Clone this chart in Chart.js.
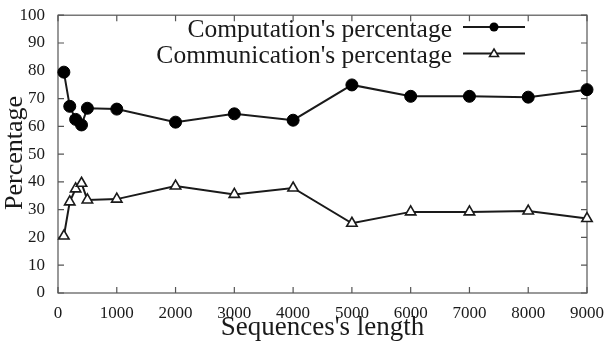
<!DOCTYPE html>
<html><head><meta charset="utf-8">
<script src="https://cdn.jsdelivr.net/npm/chart.js@4/dist/chart.umd.min.js"></script>
<style>html,body{margin:0;padding:0;background:#fff}#c{display:block}</style>
</head><body>
<canvas id="c" width="606" height="348"></canvas>
<script>
const lengths = [100, 200, 300, 400, 500, 1000, 2000, 3000, 4000, 5000, 6000, 7000, 8000, 9000];
const computation = [79.5, 67.2, 62.5, 60.5, 66.5, 66.2, 61.5, 64.5, 62.2, 74.9, 70.8, 70.8, 70.5, 73.2];
const communication = [20.5, 32.8, 37.5, 39.5, 33.5, 33.8, 38.5, 35.5, 37.8, 25.1, 29.2, 29.2, 29.5, 26.8];
const xTicks = [0, 1000, 2000, 3000, 4000, 5000, 6000, 7000, 8000, 9000];
const yTicks = [0, 10, 20, 30, 40, 50, 60, 70, 80, 90, 100];
const seriesNames = ["Computation's percentage", "Communication's percentage"];
const xTitle = "Sequences's length";
const yTitle = "Percentage";

const SERIF = "'Liberation Serif', 'DejaVu Serif', serif";
const INK = '#1a1a1a';

const framePlugin = {
  id: 'frame',
  beforeDatasetsDraw(chart) {
    const {ctx, chartArea: a, scales: {x, y}} = chart;
    ctx.save();
    ctx.strokeStyle = '#555';
    ctx.lineWidth = 1.2;
    ctx.strokeRect(a.left, a.top, a.right - a.left, a.bottom - a.top);
    const tl = 6;
    ctx.beginPath();
    xTicks.forEach(v => {
      const px = x.getPixelForValue(v);
      ctx.moveTo(px, a.bottom); ctx.lineTo(px, a.bottom - tl);
      ctx.moveTo(px, a.top); ctx.lineTo(px, a.top + tl);
    });
    yTicks.forEach(v => {
      const py = y.getPixelForValue(v);
      ctx.moveTo(a.left, py); ctx.lineTo(a.left + tl, py);
      ctx.moveTo(a.right, py); ctx.lineTo(a.right - tl, py);
    });
    ctx.stroke();
    ctx.restore();
  },
  afterDraw(chart) {
    const {ctx, chartArea: a} = chart;
    ctx.save();
    ctx.fillStyle = INK;
    // axis titles
    ctx.font = "27px " + SERIF;
    ctx.textAlign = 'center';
    ctx.textBaseline = 'middle';
    ctx.fillText(xTitle, (a.left + a.right) / 2, 328);
    ctx.save();
    ctx.translate(15, 153);
    ctx.rotate(-Math.PI / 2);
    ctx.font = "26px " + SERIF;
    ctx.fillText(yTitle, 0, 0);
    ctx.restore();
    // legend
    ctx.font = "25.5px " + SERIF;
    ctx.textAlign = 'right';
    const rows = [27, 53.5];
    seriesNames.forEach((name, i) => {
      const yy = rows[i];
      ctx.fillStyle = INK;
      ctx.fillText(name, 452, yy + 3);
      ctx.strokeStyle = INK;
      ctx.lineWidth = 2;
      ctx.beginPath(); ctx.moveTo(463, yy); ctx.lineTo(525, yy); ctx.stroke();
      if (i === 0) {
        ctx.beginPath(); ctx.arc(494, yy, 4.5, 0, Math.PI * 2); ctx.fillStyle = '#000'; ctx.fill();
      } else {
        ctx.beginPath();
        ctx.moveTo(494, yy - 4.5); ctx.lineTo(498.5, yy + 3); ctx.lineTo(489.5, yy + 3); ctx.closePath();
        ctx.fillStyle = '#fff'; ctx.fill(); ctx.lineWidth = 1.5; ctx.stroke();
      }
    });
    ctx.restore();
  }
};

new Chart(document.getElementById('c'), {
  type: 'line',
  data: {
    datasets: [
      {
        label: seriesNames[0],
        data: lengths.map((v, i) => ({x: v, y: computation[i]})),
        borderColor: INK, borderWidth: 2, tension: 0,
        pointStyle: 'circle', pointRadius: 6, pointBackgroundColor: '#000', pointBorderColor: '#000', pointBorderWidth: 1,
        clip: false
      },
      {
        label: seriesNames[1],
        data: lengths.map((v, i) => ({x: v, y: communication[i]})),
        borderColor: INK, borderWidth: 2, tension: 0,
        pointStyle: 'triangle', pointRadius: 6, pointBackgroundColor: '#fff', pointBorderColor: INK, pointBorderWidth: 1.6,
        clip: false
      }
    ]
  },
  options: {
    responsive: false,
    animation: false,
    events: [],
    layout: {padding: {top: 9, right: 19, left: 0, bottom: 0}},
    plugins: {legend: {display: false}, tooltip: {enabled: false}},
    scales: {
      x: {
        type: 'linear', min: 0, max: 9000,
        afterBuildTicks: s => { s.ticks = xTicks.map(v => ({value: v})); },
        afterFit: s => { s.height = 55; },
        grid: {display: false}, border: {display: false},
        ticks: {font: {family: SERIF, size: 17}, color: INK, padding: 2, maxRotation: 0, autoSkip: false,
                callback: v => String(v)}
      },
      y: {
        min: 0, max: 100,
        afterBuildTicks: s => { s.ticks = yTicks.map(v => ({value: v})); },
        afterFit: s => { s.width = 58; },
        grid: {display: false}, border: {display: false},
        ticks: {font: {family: SERIF, size: 17}, color: INK, padding: 5, autoSkip: false,
                callback: v => String(v)}
      }
    }
  },
  plugins: [framePlugin]
});
</script>
</body></html>
